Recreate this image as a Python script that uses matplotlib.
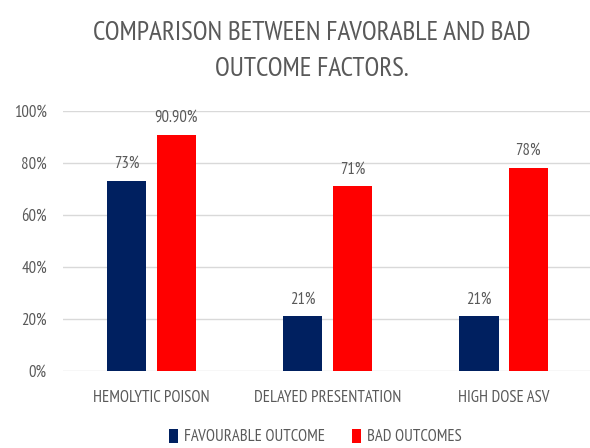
import matplotlib
matplotlib.use("Agg")
from matplotlib import pyplot as plt
import numpy as np

# data
categories = ["HEMOLYTIC POISON", "DELAYED PRESENTATION", "HIGH DOSE ASV"]
favourable = [73, 21, 21]
bad = [90.9, 71, 78]
fav_labels = ["73%", "21%", "21%"]
bad_labels = ["90.90%", "71%", "78%"]
yticks = [0, 20, 40, 60, 80, 100]

plt.rcParams["font.family"] = ["PT Sans Narrow", "DejaVu Sans"]
plt.rcParams["font.weight"] = "normal"

gray = "#595959"
navy = "#002060"
red = "#ff0000"

fig = plt.figure(figsize=(5.9, 4.48), dpi=100)
ax = fig.add_axes([0.1076, 0.172, 0.895, 0.58])

x = np.arange(len(categories))
w = 0.225
off = 0.141
b1 = ax.bar(x - off, favourable, w, color=navy, label="FAVOURABLE OUTCOME", zorder=3)
b2 = ax.bar(x + off, bad, w, color=red, label="BAD OUTCOMES", zorder=3)

for bars, labels in ((b1, fav_labels), (b2, bad_labels)):
    for rect, lab in zip(bars, labels):
        ax.text(rect.get_x() + rect.get_width() / 2, rect.get_height() + 3.5, lab,
                ha="center", va="bottom", color=gray, fontsize=12)

ax.set_xlim(-0.5, 2.5)
ax.set_ylim(0, 100)
ax.set_yticks(yticks)
ax.set_yticklabels([f"{t}%" for t in yticks], color=gray, fontsize=12)
ax.set_xticks(x)
ax.set_xticklabels(categories, color=gray, fontsize=12)
ax.tick_params(axis="y", length=0, pad=12)
ax.tick_params(axis="x", length=0, pad=14)
ax.grid(axis="y", color="#d9d9d9", linewidth=1, zorder=0)
for s in ax.spines.values():
    s.set_visible(False)

fig.text(0.528, 1 - 33 / 448, "COMPARISON BETWEEN FAVORABLE AND BAD",
         ha="center", va="center", color=gray, fontsize=19.5)
fig.text(0.528, 1 - 69 / 448, "OUTCOME FACTORS.",
         ha="center", va="center", color=gray, fontsize=19.5)

fig.legend(loc="center", bbox_to_anchor=(0.534, 1 - 437 / 448), ncol=2, frameon=False,
           fontsize=12, labelcolor=gray, handlelength=0.55, handleheight=0.9,
           handletextpad=0.35, columnspacing=1.6)

fig.savefig("out.png", dpi=100)
